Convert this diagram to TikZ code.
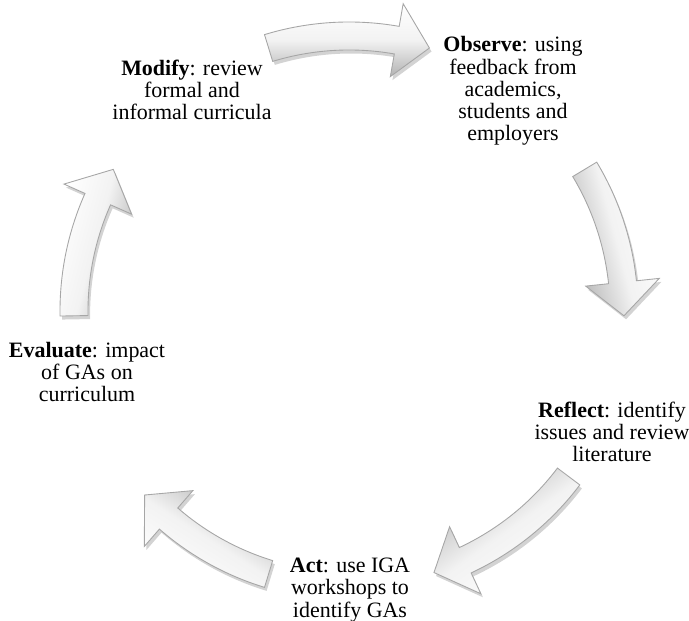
\documentclass[tikz,border=0pt]{standalone}
\usepackage{fontspec}
\setmainfont{Liberation Serif}
\usetikzlibrary{shadows}

\tikzset{
  cycletext/.style={align=center, inner sep=0pt, font=\fontsize{12.5}{12.6}\selectfont},
  cyclearrow/.style={draw=gray!70, line width=0.5pt, top color=white, bottom color=gray!60,
    middle color=white!90!gray,
    drop shadow={opacity=0.35, shadow xshift=1.2pt, shadow yshift=-2pt}},
}

\begin{document}
\begin{tikzpicture}[x=0.02cm,y=0.02cm]
  \useasboundingbox (0,0) rectangle (689,621);
  \coordinate (c) at (349,310);

  % block arrows round the cycle, tail angle / tip angle
  \foreach \t/\p in {107/73, 31/-1, -37/-72, -107/-138, 181/149}{
    \pgfmathsetmacro\b{\p+7}
    \pgfmathsetmacro\m{(\t+\p)/2-90}
    \path[cyclearrow, shading angle=\m, shift={(c)}]
      (\t:289) arc[start angle=\t, end angle=\b, radius=289] -- (\b:312) -- (\p:275)
      -- (\b:238) -- (\b:261) arc[start angle=\b, end angle=\t, radius=261] -- cycle;
  }

  \node[cycletext] (modify)   at (192,531) {\textbf{Modify}: review\\formal and\\informal curricula};
  \node[cycletext] (observe)  at (513,530) {\textbf{Observe}: using\\feedback from\\academics,\\students and\\employers};
  \node[cycletext] (reflect)  at (612,189) {\textbf{Reflect}: identify\\issues and review\\literature};
  \node[cycletext] (act)      at (350,31)  {\textbf{Act}: use IGA\\workshops to\\identify GAs};
  \node[cycletext] (evaluate) at (87,249)  {\textbf{Evaluate}: impact\\of GAs on\\curriculum};
\end{tikzpicture}
\end{document}
